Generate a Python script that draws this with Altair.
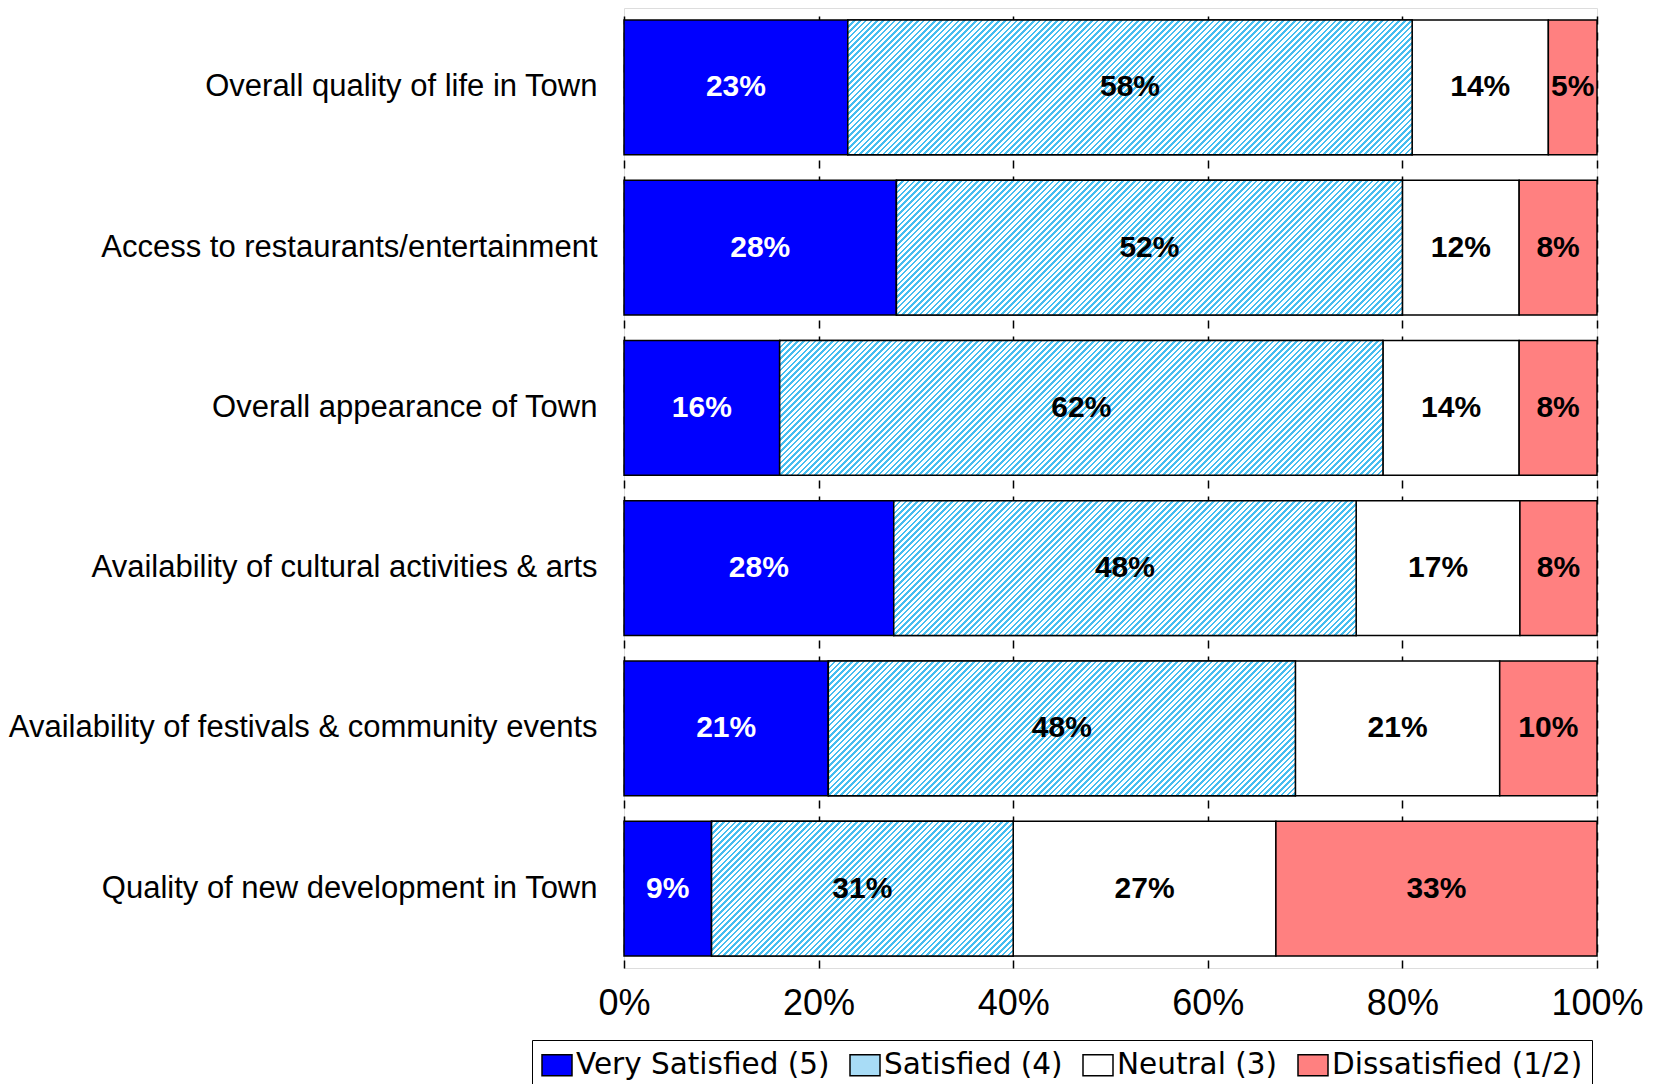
import math
import altair as alt
import pandas as pd

# ---- data ----
categories = [
    "Overall quality of life in Town",
    "Access to restaurants/entertainment",
    "Overall appearance of Town",
    "Availability of cultural activities & arts",
    "Availability of festivals & community events",
    "Quality of new development in Town",
]
responses = ["Very Satisfied (5)", "Satisfied (4)", "Neutral (3)", "Dissatisfied (1/2)"]
very_satisfied = [23, 28, 16, 28, 21, 9]
satisfied = [58, 52, 62, 48, 48, 31]
neutral = [14, 12, 14, 17, 21, 27]
dissatisfied = [5, 8, 8, 8, 10, 33]
tick_values = [0, 0.2, 0.4, 0.6, 0.8, 1.0]

series = [very_satisfied, satisfied, neutral, dissatisfied]
colors = ["#0000ff", "#a8dcf6", "#ffffff", "#ff8080"]
STRIPE = "#45bdf0"

rows = []
for ci, cat in enumerate(categories):
    for ri, resp in enumerate(responses):
        rows.append({"cat": cat, "resp": resp, "ord": ri, "pct": series[ri][ci]})
df = pd.DataFrame(rows)

# ---- layout ----
PLOT_W, PLOT_H = 973, 960
P_IN, P_OUT = 0.16, 0.075
step = PLOT_H / (len(categories) - P_IN + 2 * P_OUT)
BAR_H = step * (1 - P_IN)


def hatch(w, h, period=5.8, duty=0.45):
    k = (w + h) / (w * w + h * h)
    span = w + h
    stops = []
    j = 0
    while True:
        a = j * period / span
        if a >= 1:
            break
        b = min((j + duty) * period / span, 1)
        c = min((j + 1) * period / span, 1)
        stops += [
            {"offset": a, "color": STRIPE},
            {"offset": b, "color": STRIPE},
            {"offset": b, "color": "#ffffff"},
            {"offset": c, "color": "#ffffff"},
        ]
        j += 1
    return {"gradient": "linear", "x1": 0, "y1": 0, "x2": w * k, "y2": h * k, "stops": stops}


y_enc = alt.Y(
    "cat:N",
    sort=categories,
    scale=alt.Scale(paddingInner=P_IN, paddingOuter=P_OUT),
    axis=alt.Axis(
        title=None, labelFont="Liberation Sans", labelFontSize=31, labelColor="black",
        labelPadding=27, labelLimit=1000, ticks=False, domain=False, grid=False,
    ),
)
x_enc = alt.X(
    "v0:Q",
    scale=alt.Scale(domain=[0, 1], nice=False),
    axis=alt.Axis(
        title=None, format="%", values=tick_values, labelFont="Liberation Sans",
        labelFontSize=36, labelColor="black", labelPadding=18, labelFlush=False,
        ticks=False, domain=False, grid=True, gridColor="black", gridDash=[8, 8],
        gridWidth=1.5, gridOpacity=1,
    ),
)

base_bars = alt.Chart().mark_bar(stroke="black", strokeWidth=1.5, opacity=1).encode(
    x=x_enc,
    x2="v1:Q",
    y=y_enc,
    color=alt.Color(
        "resp:N",
        scale=alt.Scale(domain=responses, range=colors),
        legend=alt.Legend(
            title=None, orient="none", legendX=-92, legendY=1032, direction="horizontal",
            columns=4, strokeColor="black", fillColor="white", padding=9,
            symbolType="M-1,-0.7H1V0.7H-1Z", symbolSize=900, symbolStrokeColor="black",
            symbolStrokeWidth=1.5, symbolOpacity=1, labelFont="DejaVu Sans",
            labelFontSize=29.5, labelColor="black", labelOffset=3, columnPadding=17,
            labelLimit=1000,
        ),
    ),
)

layers = [base_bars]
for ci, cat in enumerate(categories):
    total = very_satisfied[ci] + satisfied[ci] + neutral[ci] + dissatisfied[ci]
    w = satisfied[ci] / total * PLOT_W
    layers.append(
        alt.Chart()
        .mark_bar(fill=hatch(w, BAR_H), stroke="black", strokeWidth=1.5)
        .encode(x="v0:Q", x2="v1:Q", y=alt.Y("cat:N", sort=categories))
        .transform_filter((alt.datum.cat == cat) & (alt.datum.resp == responses[1]))
    )

labels = alt.Chart().mark_text(
    font="Liberation Sans", fontSize=30, fontWeight="bold", baseline="middle", align="center"
).encode(
    x="mid:Q",
    y=alt.Y("cat:N", sort=categories),
    text="lab:N",
    color=alt.condition(alt.datum.resp == responses[0], alt.value("white"), alt.value("black")),
)
layers.append(labels)

chart = (
    alt.layer(*layers, data=df)
    .transform_stack(stack="pct", groupby=["cat"], as_=["v0", "v1"], sort=[alt.SortField("ord", "ascending")], offset="normalize")
    .transform_calculate(mid="(datum.v0 + datum.v1) / 2", lab="datum.pct + '%'")
    .properties(width=PLOT_W, height=PLOT_H, padding={"left": 0, "top": 0, "right": 5, "bottom": 0})
    .configure_view(stroke="black", strokeWidth=2)
    .configure(background="white")
)

chart.save("out.html", embed_options={"renderer": "svg", "actions": False})
